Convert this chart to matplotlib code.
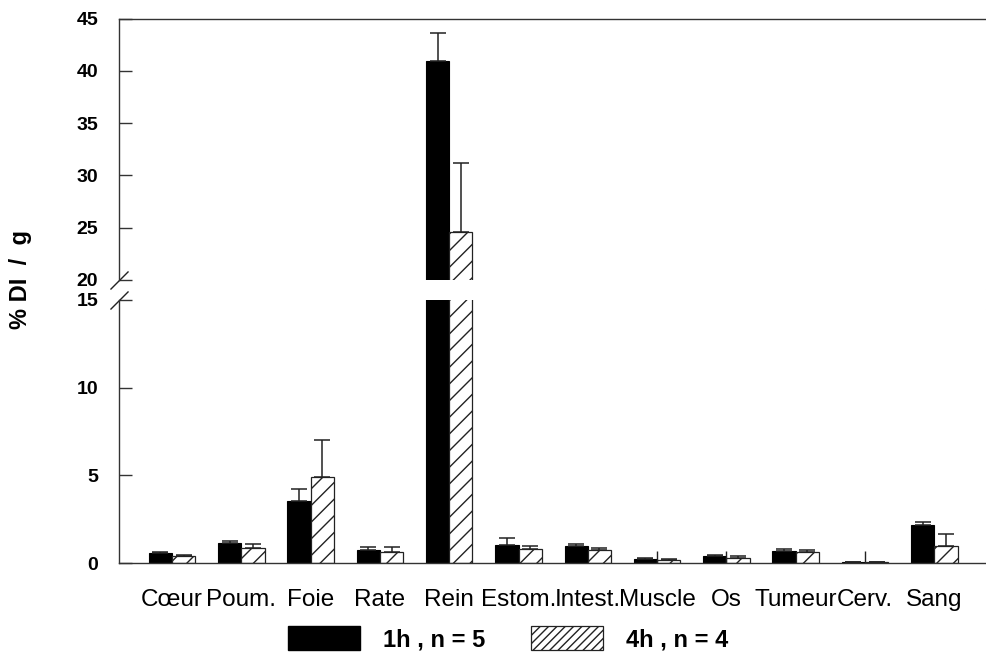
import matplotlib
matplotlib.use("Agg")
import matplotlib.pyplot as plt
from matplotlib.patches import Patch
import numpy as np

plt.rcParams['font.family'] = ['Liberation Sans', 'DejaVu Sans']
plt.rcParams['hatch.linewidth'] = 1.0

categories = ['Cœur', 'Poum.', 'Foie', 'Rate', 'Rein', 'Estom.', 'Intest.',
              'Muscle', 'Os', 'Tumeur', 'Cerv.', 'Sang']
h1 = [0.57, 1.14, 3.52, 0.74, 40.9, 1.00, 0.97, 0.25, 0.42, 0.70, 0.06, 2.16]
h1_err = [0.04, 0.12, 0.72, 0.19, 2.7, 0.40, 0.13, 0.02, 0.04, 0.08, 0.0, 0.19]
h4 = [0.42, 0.85, 4.90, 0.64, 24.6, 0.78, 0.72, 0.17, 0.30, 0.61, 0.06, 0.95]
h4_err = [0.05, 0.21, 2.13, 0.27, 6.6, 0.19, 0.15, 0.06, 0.08, 0.11, 0.0, 0.68]
stray = [0, 0, 0, 0, 0, 0, 0, 0.7, 0.7, 0, 0.7, 0]
labels = ['1h , n = 5', '4h , n = 4']
upper_ticks = [20, 25, 30, 35, 40, 45]
lower_ticks = [0, 5, 10, 15]

W, H = 987, 652
fig = plt.figure(figsize=(W / 100, H / 100), dpi=100)

def fx(px):
    return px / W

def fy(py):
    return 1 - py / H

left, right = fx(119), fx(995)
ax_top = fig.add_axes([left, fy(280), right - left, fy(18.5) - fy(280)])
ax_bot = fig.add_axes([left, fy(563), right - left, fy(300) - fy(563)])

x = np.arange(len(categories))
bw = 0.336
edge = '#222222'
ecol = '#222222'

for ax in (ax_top, ax_bot):
    ax.bar(x - bw / 2, h1, bw, color='black', edgecolor='black', linewidth=0.8,
           yerr=[np.zeros(len(h1)), h1_err],
           error_kw=dict(ecolor=ecol, elinewidth=1.1, capsize=5.5, capthick=1.1))
    ax.bar(x + bw / 2, h4, bw, color='white', edgecolor=edge, linewidth=0.9, hatch='//',
           yerr=[np.zeros(len(h4)), h4_err],
           error_kw=dict(ecolor=ecol, elinewidth=1.1, capsize=5.5, capthick=1.1))
    ax.vlines(x, 0, stray, color=ecol, linewidth=1.0)
    ax.set_xlim(-0.765, 11.876)
    ax.spines['right'].set_visible(False)
    for s in ax.spines.values():
        s.set_color('#333333')
        s.set_linewidth(1.0)
    ax.tick_params(axis='y', direction='in', length=9, width=1.0, color='#333333', pad=15)
    ax.tick_params(axis='x', length=0)

ax_top.set_ylim(20, 45)
ax_top.set_yticks(upper_ticks)
ax_top.set_yticklabels([str(v) for v in upper_ticks], fontweight='bold', fontsize=14)
ax_top.spines['bottom'].set_visible(False)
ax_top.set_xticks([])

ax_bot.set_ylim(0, 15)
ax_bot.set_yticks(lower_ticks)
ax_bot.set_yticklabels([str(v) for v in lower_ticks], fontweight='bold', fontsize=14)
ax_bot.spines['top'].set_visible(False)
ax_bot.set_xticks(x)
ax_bot.set_xticklabels(categories, fontsize=17.5)
ax_bot.tick_params(axis='x', pad=19)

# break marks
kw = dict(marker=[(-1, -1), (1, 1)], markersize=13, linestyle='none', color='#222222',
          mec='#222222', mew=1.0, clip_on=False)
ax_top.plot([0, 1], [0, 0], transform=ax_top.transAxes, **kw)
ax_bot.plot([0, 1], [1, 1], transform=ax_bot.transAxes, **kw)

fig.text(fx(21), fy(279), '% DI  /  g', rotation=90, fontsize=17, fontweight='bold',
         ha='center', va='center')

handles = [Patch(facecolor='black', edgecolor='black'),
           Patch(facecolor='white', edgecolor=edge, hatch='////', linewidth=0.9)]
fig.legend(handles, labels, loc='lower left', bbox_to_anchor=(fx(288), fy(651)),
           ncol=2, frameon=False, prop=dict(size=17, weight='bold'),
           handlelength=3.05, handleheight=1.23, handletextpad=0.97,
           columnspacing=1.95, borderpad=0, borderaxespad=0)

fig.savefig('out.png', dpi=100)
